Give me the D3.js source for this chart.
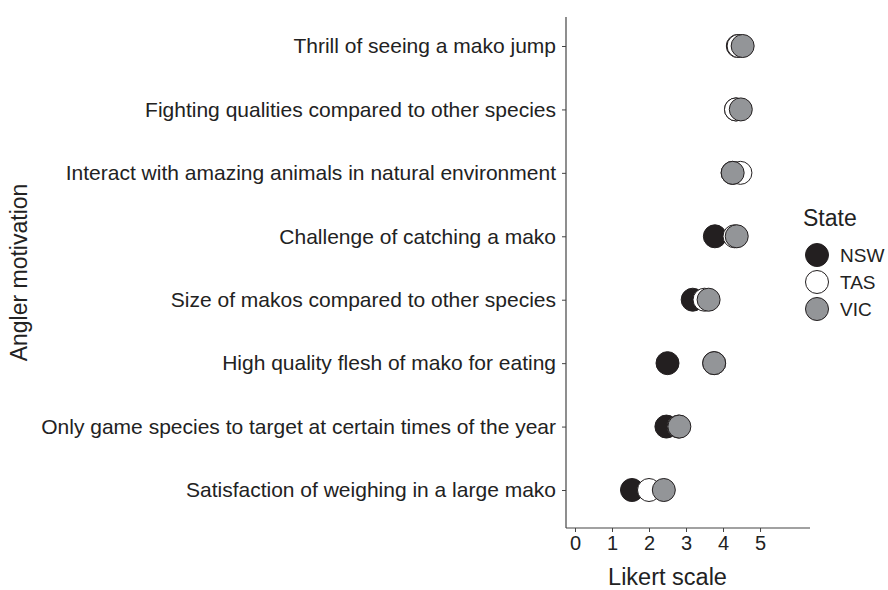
<!DOCTYPE html>
<html>
<head>
<meta charset="utf-8">
<script src="https://cdn.jsdelivr.net/npm/d3@7"></script>
<style>
  body { margin: 0; background: #fff; }
  text { font-family: "Liberation Sans", Arial, sans-serif; fill: #222; }
</style>
</head>
<body>
<svg id="chart" width="888" height="590"></svg>
<script>
// データ
const motivations = [
    "Thrill of seeing a mako jump",
    "Fighting qualities compared to other species",
    "Interact with amazing animals in natural environment",
    "Challenge of catching a mako",
    "Size of makos compared to other species",
    "High quality flesh of mako for eating",
    "Only game species to target at certain times of the year",
    "Satisfaction of weighing in a large mako"
];
const states = ["NSW", "TAS", "VIC"];
const nswValues = [4.40, 4.35, 4.26, 3.78, 3.18, 2.50, 2.47, 1.54];
const tasValues = [4.42, 4.35, 4.47, 4.31, 3.50, 3.76, 2.80, 2.00];
const vicValues = [4.53, 4.48, 4.26, 4.37, 3.61, 3.76, 2.82, 2.40];
const xTicks = [0, 1, 2, 3, 4, 5];
const stateFill = { NSW: "#231f20", TAS: "#ffffff", VIC: "#939598" };

const svg = d3.select("#chart");

// 軸の位置
const plotLeft = 566, plotRight = 810, plotTop = 17, plotBottom = 528;

const x = d3.scaleLinear().domain([-0.243, 6.35]).range([plotLeft, plotRight]);
const y = d3.scalePoint().domain(motivations).range([46, 490]);

// 点データ
const points = [];
[nswValues, tasValues, vicValues].forEach((vals, s) => {
    vals.forEach((v, i) => points.push({ state: states[s], motivation: motivations[i], value: v }));
});

// Y軸
const yAxis = d3.axisLeft(y).tickSize(4).tickPadding(6);
const gy = svg.append("g").attr("transform", `translate(${plotLeft},0)`).call(yAxis);
gy.select(".domain").remove();
gy.append("line").attr("x1", 0).attr("x2", 0).attr("y1", plotTop).attr("y2", plotBottom)
    .attr("stroke", "#444").attr("stroke-width", 1.2);
gy.selectAll(".tick line").attr("stroke", "#444");
gy.selectAll(".tick text").style("font-size", "21px").attr("fill", "#222")
    .style("font-family", '"Liberation Sans", Arial, sans-serif');

// X軸
const xAxis = d3.axisBottom(x).tickValues(xTicks).tickFormat(d3.format("d")).tickSize(4).tickPadding(4);
const gx = svg.append("g").attr("transform", `translate(0,${plotBottom})`).call(xAxis);
gx.select(".domain").remove();
gx.append("line").attr("x1", plotLeft).attr("x2", plotRight).attr("y1", 0).attr("y2", 0)
    .attr("stroke", "#444").attr("stroke-width", 1.2);
gx.selectAll(".tick line").attr("stroke", "#444");
gx.selectAll(".tick text").style("font-size", "20px").attr("fill", "#222")
    .style("font-family", '"Liberation Sans", Arial, sans-serif');

// 軸タイトル
svg.append("text")
    .attr("x", (x(0) + x(5)) / 2)
    .attr("y", 585)
    .attr("text-anchor", "middle")
    .style("font-size", "23.5px")
    .text("Likert scale");

svg.append("text")
    .attr("transform", `translate(27,${(plotTop + plotBottom) / 2}) rotate(-90)`)
    .attr("text-anchor", "middle")
    .style("font-size", "23px")
    .text("Angler motivation");

// 点の描画
svg.selectAll("circle.pt")
    .data(points)
    .enter().append("circle")
    .attr("class", "pt")
    .attr("cx", d => x(d.value))
    .attr("cy", d => y(d.motivation))
    .attr("r", 11.5)
    .attr("fill", d => stateFill[d.state])
    .attr("stroke", "#231f20")
    .attr("stroke-width", 1);

// 凡例
const legend = svg.append("g").attr("transform", "translate(803,0)");
legend.append("text").attr("x", 0).attr("y", 226).style("font-size", "23px").text("State");
const items = legend.selectAll("g.item")
    .data(states)
    .enter().append("g")
    .attr("class", "item")
    .attr("transform", (d, i) => `translate(0,${255 + i * 27})`);
items.append("circle")
    .attr("cx", 14).attr("cy", 0).attr("r", 11.5)
    .attr("fill", d => stateFill[d])
    .attr("stroke", "#231f20").attr("stroke-width", 1);
items.append("text")
    .attr("x", 37).attr("y", 7)
    .style("font-size", "19px")
    .text(d => d);
</script>
</body>
</html>
